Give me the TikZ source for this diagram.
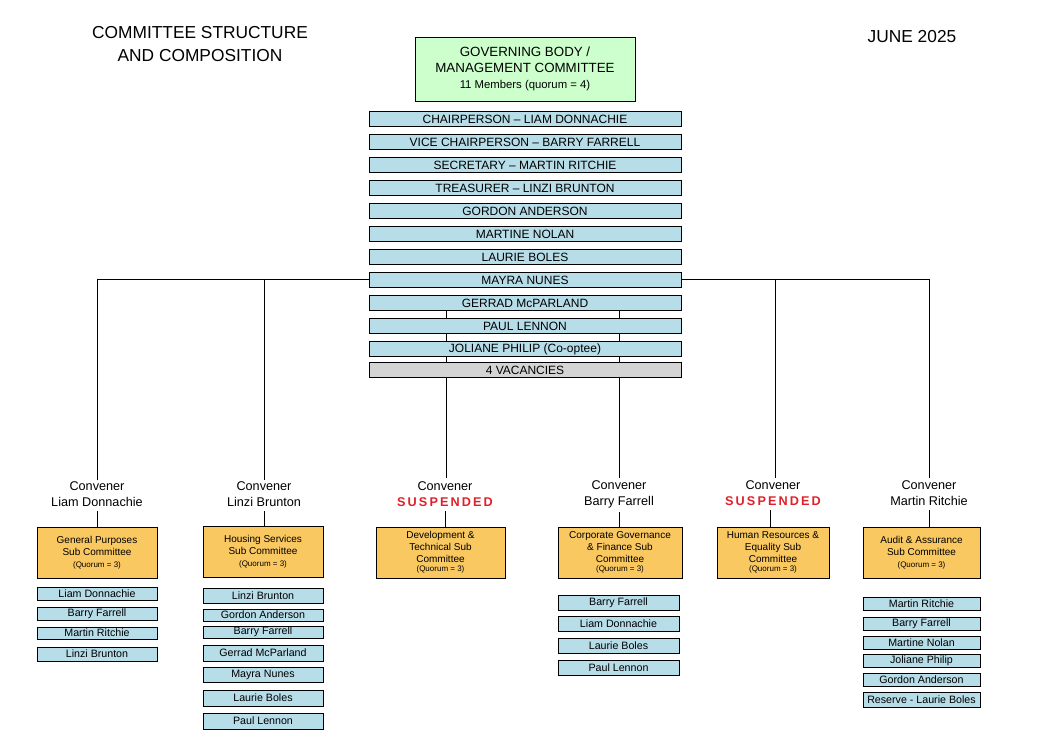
\documentclass[tikz,border=0pt]{standalone}
\usepackage{fontspec}
\setmainfont{Liberation Sans}
\begin{document}
\begin{tikzpicture}[x=0.75pt,y=-0.75pt,
  mem/.style={draw,fill=memblue,inner sep=0pt,font=\fontsize{8}{9}\selectfont},
  top/.style={draw,fill=memblue,inner sep=0pt,font=\fontsize{9}{10}\selectfont},
  sub/.style={draw,fill=suborange,inner sep=0pt,align=center,font=\fontsize{7.5}{9}\selectfont},
  conv/.style={align=center,font=\fontsize{9.5}{12}\selectfont},
  ln/.style={draw,line width=0.6pt}]
\definecolor{memblue}{HTML}{B7DDE8}
\definecolor{suborange}{HTML}{FAC860}
\definecolor{gbgreen}{HTML}{CCFFCC}
\definecolor{susred}{HTML}{E0202A}
\fill[white] (0,0) rectangle (1040,737);
\useasboundingbox (0,0) rectangle (1040,737);
\newcommand{\bx}[6]{\node[#1,minimum width=#4*0.75pt-0.75pt,minimum height=#5*0.75pt-0.75pt] (#6) at (#2,#3) {};}
% lines behind
\draw[ln] (97,279) -- (369,279);
\draw[ln] (682,279) -- (929,279);
\draw[ln] (97,279) -- (97,480);
\draw[ln] (264,279) -- (264,480);
\draw[ln] (775,279) -- (775,478);
\draw[ln] (929,279) -- (929,478);
\draw[ln] (446,300) -- (446,478);
\draw[ln] (619,300) -- (619,478);
% titles
\node[align=center,font=\fontsize{13}{17}\selectfont] (title) at (200,44) {COMMITTEE STRUCTURE\\AND COMPOSITION};
\node[font=\fontsize{13}{15}\selectfont] (date) at (912,37) {JUNE 2025};
\node[draw,fill=gbgreen,minimum width=165pt,minimum height=48pt,align=center,inner sep=0pt,font=\fontsize{10}{12}\selectfont] (gb) at (525,69)
 {GOVERNING BODY /\\MANAGEMENT COMMITTEE\\{\fontsize{8.5}{10}\selectfont 11 Members (quorum = 4)}};
% top members
\foreach \t [count=\i] in {CHAIRPERSON -- LIAM DONNACHIE,VICE CHAIRPERSON -- BARRY FARRELL,SECRETARY -- MARTIN RITCHIE,TREASURER -- LINZI BRUNTON,GORDON ANDERSON,MARTINE NOLAN,LAURIE BOLES,MAYRA NUNES,GERRAD McPARLAND,PAUL LENNON,JOLIANE PHILIP (Co-optee)}
  \node[top,minimum width=234pt,minimum height=11pt] (m\i) at (525,{119+23*(\i-1)}) {\t};
\node[top,fill=black!17,minimum width=234pt,minimum height=11.5pt] (m12) at (525,370) {4 VACANCIES};
% conveners
\node[conv] (c1) at (97,494) {Convener\\Liam Donnachie};
\node[conv] (c2) at (264,494) {Convener\\Linzi Brunton};
\node[conv] (c3) at (445,494) {Convener\\{\color{susred}\bfseries S\,U\,S\,P\,E\,N\,D\,E\,D}};
\node[conv] (c4) at (619,494) {Convener\\Barry Farrell};
\node[conv] (c5) at (773,493) {Convener\\{\color{susred}\bfseries S\,U\,S\,P\,E\,N\,D\,E\,D}};
\node[conv] (c6) at (929,493) {Convener\\Martin Ritchie};
% sub committees
\node[sub,minimum width=90pt,minimum height=38pt] (s1) at (97,552.5) {General Purposes\\Sub Committee\\{\fontsize{6}{8}\selectfont (Quorum = 3)}};
\node[sub,minimum width=90pt,minimum height=38pt] (s2) at (263,552) {Housing Services\\Sub Committee\\{\fontsize{6}{8}\selectfont (Quorum = 3)}};
\node[sub,minimum width=97pt,minimum height=38pt] (s3) at (440.5,552.5) {Development \&\\Technical Sub\\Committee\\[-2pt]{\fontsize{6}{8}\selectfont (Quorum = 3)}};
\node[sub,minimum width=93pt,minimum height=38pt] (s4) at (620,552.5) {Corporate Governance\\\& Finance Sub\\Committee\\[-2pt]{\fontsize{6}{8}\selectfont (Quorum = 3)}};
\node[sub,minimum width=84pt,minimum height=38pt] (s5) at (773,552.5) {Human Resources \&\\Equality Sub\\Committee\\[-2pt]{\fontsize{6}{8}\selectfont (Quorum = 3)}};
\node[sub,minimum width=88pt,minimum height=38pt] (s6) at (921.5,552.5) {Audit \& Assurance\\Sub Committee\\{\fontsize{6}{8}\selectfont (Quorum = 3)}};
\foreach \i/\x in {1/97,2/264,3/445,4/619,5/770,6/929}
  \draw[ln] (c\i.south -| \x,0) -- (s\i.north -| \x,0);
% members col1
\foreach \t/\y/\h [count=\i] in {Liam Donnachie/593.5/13,Barry Farrell/613.5/13,Martin Ritchie/633/12,Linzi Brunton/654/14}
  \node[mem,minimum width=90pt,minimum height=\h*0.75pt] (a\i) at (97,\y) {\t};
\foreach \t/\y/\h [count=\i] in {Linzi Brunton/595.5/15,Gordon Anderson/615/12,Barry Farrell/632/12,Gerrad McParland/653/16,Mayra Nunes/674.5/15,Laurie Boles/698/16,Paul Lennon/721/16}
  \node[mem,minimum width=90pt,minimum height=\h*0.75pt] (b\i) at (263,\y) {\t};
\foreach \t/\y [count=\i] in {Barry Farrell/602.5,Liam Donnachie/623.5,Laurie Boles/645.5,Paul Lennon/667.5}
  \node[mem,minimum width=90.75pt,minimum height=11.25pt] (d\i) at (618.5,\y) {\t};
\foreach \t/\y/\h [count=\i] in {Martin Ritchie/603.5/13,Barry Farrell/623.5/13,Martine Nolan/642.5/13,Joliane Philip/660.5/13,Gordon Anderson/679.5/13,Reserve - Laurie Boles/699.5/15}
  \node[mem,minimum width=87.75pt,minimum height=\h*0.75pt] (f\i) at (921.5,\y) {\t};
\end{tikzpicture}
\end{document}
